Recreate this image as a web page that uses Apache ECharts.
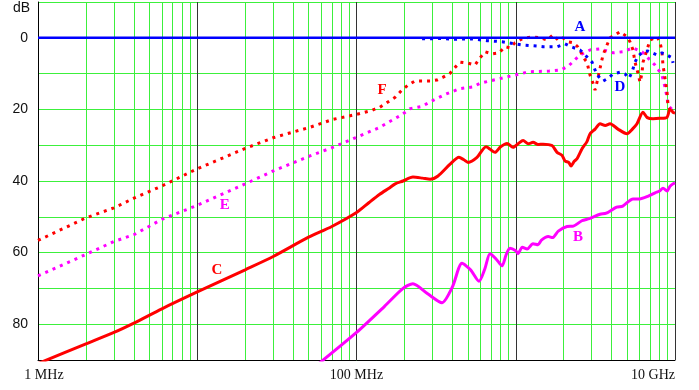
<!DOCTYPE html>
<html>
<head>
<meta charset="utf-8">
<script src="https://cdn.jsdelivr.net/npm/echarts@6/dist/echarts.min.js"></script>
<style>
  html, body { margin: 0; padding: 0; background: #fff; }
  #chart { width: 699px; height: 390px; }
</style>
</head>
<body>
<div id="chart"></div>
<script>
// frequencies in MHz, levels in dB (axis runs downward)
const freqA = [1, 10000]
const valA = [0, 0]

const freqB = [58, 100, 150, 196, 226, 280, 344, 400, 460, 520, 588, 640, 689, 750, 820, 870, 920, 1000, 1033, 1100, 1180, 1283, 1380, 1450, 1600, 1700, 1850, 2100, 2300, 2600, 2900, 3383, 3700, 4300, 4700, 5450, 6000, 6800, 7500, 8000, 8410, 8910, 9300, 9710, 10000]
const valB = [91, 82.3, 75, 70, 68.7, 71.5, 74, 69.6, 63, 64.8, 68, 64.5, 60.3, 61.7, 63.7, 60.6, 58.8, 59.5, 60.3, 58.5, 59, 57.5, 57.8, 56.5, 55.5, 55.8, 54, 52.7, 52.6, 51.1, 50.5, 49.3, 49, 47.3, 47, 45, 45, 44.2, 43.3, 42.8, 42, 42.8, 41.5, 40.8, 40.5]

const freqC = [1, 2, 3, 4, 6, 10, 20, 30, 50, 70, 100, 120, 140, 160, 175, 196, 226, 260, 290, 325, 387, 440, 470, 502, 571, 651, 741, 800, 882, 961, 1040, 1112, 1200, 1285, 1380, 1485, 1690, 1817, 1950, 2040, 2150, 2225, 2330, 2425, 2608, 2800, 2929, 3150, 3383, 3650, 3910, 4385, 4998, 5400, 5773, 6292, 6700, 7277, 8000, 8910, 9310, 9710, 10000]
const valC = [91, 85.5, 82.3, 79.7, 75.7, 71, 64.8, 61.1, 55.7, 52.7, 48.8, 46, 43.7, 42, 40.8, 40, 38.9, 39.2, 39.5, 38.6, 35.3, 33.4, 34, 34.8, 33.4, 30.4, 32, 30.5, 29.5, 30.6, 29.5, 28.7, 29.6, 29.2, 29.8, 29.7, 30.1, 32, 32.8, 34.4, 34.8, 35.8, 34.5, 33.8, 31, 29, 26.8, 25.5, 24, 24.5, 24, 25.5, 26.8, 25.5, 24, 20.8, 22.3, 22.6, 22.5, 22.2, 19.8, 20.8, 21]

const freqD = [258, 330, 420, 531, 660, 820, 894, 1094, 1360, 1483, 1816, 2038, 2225, 2531, 2644, 3013, 3238, 3533, 3797, 4082, 4518, 4853, 5143, 5370, 5609, 5858, 6298, 6764, 7705, 8281, 8913, 9579, 9719]
const valD = [0.3, 0.2, 0.4, 0.3, 0.8, 1.1, 1.4, 2, 2.3, 2.5, 2.5, 1.7, 2.5, 3.4, 4.2, 6.8, 10.4, 12.1, 11.3, 10.1, 9.6, 10.1, 11.3, 9.6, 6.8, 5.1, 3.9, 3.7, 4.8, 4.2, 4.8, 5.6, 7]

const freqE = [1, 2, 3, 4, 6, 10, 20, 30, 51, 71, 100, 140, 192, 217, 257, 290, 360, 446, 541, 597, 759, 1060, 1199, 1620, 1920, 2140, 2531, 2926, 3383, 4082, 4714, 5446, 6205, 6764, 7484, 8281, 8656, 8913, 9043, 9307, 9719]
const valE = [66.5, 60.5, 56.9, 55, 50.7, 46.8, 40.8, 37.2, 33, 30.6, 27.8, 25, 21.5, 19.8, 19.2, 17.9, 15.8, 14.2, 13.7, 12.7, 11.6, 10.1, 9.5, 9.3, 9, 7.9, 4.8, 3.4, 3.1, 4.2, 3.9, 2.8, 3.9, 5.6, 7.6, 10.4, 13.8, 16.6, 18.9, 19.4, 20.3]

const freqF = [1, 2, 3, 4, 6, 10, 20, 30, 51, 71, 100, 124, 140, 175, 193, 211, 232, 290, 320, 350, 387, 417, 448, 502, 555, 597, 641, 709, 785, 856, 920, 989, 1094, 1265, 1420, 1571, 1714, 1842, 1981, 2128, 2300, 2450, 2531, 2644, 2801, 2926, 3057, 3147, 3238, 3383, 3533, 3742, 3908, 4082, 4518, 4998, 5216, 5446, 5609, 5858, 6027, 6205, 6298, 6673, 6966, 7705, 8046, 8281, 8404, 8656, 8913, 9043, 9307, 9719]
const valF = [56.6, 50.3, 47.5, 44.8, 41.4, 36.6, 30.9, 27.9, 25, 22.8, 21.4, 20.3, 19.4, 16.6, 14.6, 13.2, 12.1, 12.1, 11.8, 11, 9.9, 8.2, 6.8, 7.1, 7.6, 5.6, 3.9, 4.5, 4.2, 2.5, 2.8, 1.4, 0.3, -0.3, 0, 0.6, -0.8, 0.6, 0, 1.1, 1.4, 2.5, 3.4, 5.4, 6.8, 10.4, 12.7, 14.6, 12.4, 8.5, 4.8, 2, 0, -0.5, -1.7, -0.3, 1.1, 3.4, 6.8, 9.9, 12.4, 9.9, 6.8, 3.4, 0.6, -0.3, 1.1, 3.9, 7.6, 11.3, 15.2, 18.9, 20.3, 20.5]

// curve letters and where they sit (MHz, dB)
const labelNames = ['A', 'B', 'C', 'D', 'E', 'F']
const labelFreq = [2530, 2460, 13.3, 4515, 14.9, 145]
const labelDb = [-3.1, 55.8, 64.8, 13.8, 46.8, 14.6]

const xLabels = { 0: '1 MHz', 2: '100 MHz', 4: '10 GHz' }
const yLabels = [0, 20, 40, 60, 80]

const GREEN = '#3cf03c'
const RED = '#ff0000'
const MAGENTA = '#ff00ff'
const BLUE = '#0000ff'

// 2..9 lines inside every decade
const minorFreqs = []
for (let d = 0; d < 4; d++) {
  for (let m = 2; m <= 9; m++) minorFreqs.push(m * Math.pow(10, d))
}

const pts = (f, v) => f.map((x, i) => [x, v[i]])

const dotted = { type: [3, 5], width: 3, cap: 'butt' }

const letter = (i, color) => ({
  symbol: 'rect',
  symbolSize: 1,
  silent: true,
  itemStyle: { color: 'rgba(0,0,0,0)' },
  label: {
    show: true,
    position: 'inside',
    formatter: labelNames[i],
    color: color,
    fontFamily: "'Times New Roman', 'Liberation Serif', serif",
    fontWeight: 'bold',
    fontSize: 15,
  },
  data: [{ coord: [labelFreq[i], labelDb[i]] }],
})

const lineSeries = (name, data, color, style, idx, smooth) => ({
  name: name,
  type: 'line',
  data: data,
  showSymbol: false,
  symbol: 'none',
  smooth: smooth || false,
  z: 3,
  lineStyle: Object.assign({ color: color }, style),
  markPoint: letter(idx, color),
  animation: false,
})

const chart = echarts.init(document.getElementById('chart'))

const option = {
  animation: false,
  grid: { left: 38, right: 24, top: 2, bottom: 30, containLabel: false },
  graphic: [
    {
      type: 'text',
      left: 13,
      top: 1,
      style: { text: 'dB', font: "14px Arial, 'Liberation Sans', sans-serif", fill: '#111' },
    },
  ],
  xAxis: {
    type: 'log',
    logBase: 10,
    min: 1,
    max: 10000,
    axisLine: { show: true, onZero: false, lineStyle: { color: '#000', width: 1 } },
    axisTick: { show: false },
    splitLine: { show: true, lineStyle: { color: '#333', width: 1 } },
    axisLabel: {
      show: true,
      margin: 8,
      color: '#111',
      fontSize: 14,
      fontFamily: "'Times New Roman', 'Liberation Serif', serif",
      alignMaxLabel: 'right',
      formatter: (v) => {
        const e = Math.round(Math.log10(v))
        if (e === 0) return '{l|' + xLabels[0] + '}'
        return xLabels[e] || ''
      },
      rich: {
        l: {
          padding: [0, 0, 0, 12],
          fontSize: 14,
          color: '#111',
          fontFamily: "'Times New Roman', 'Liberation Serif', serif",
        },
      },
    },
  },
  yAxis: {
    type: 'value',
    inverse: true,
    min: -10,
    max: 90,
    interval: 10,
    axisLine: { show: true, onZero: false, lineStyle: { color: '#000', width: 1 } },
    axisTick: { show: false },
    splitLine: { show: true, lineStyle: { color: GREEN, width: 1 } },
    axisLabel: {
      margin: 10,
      color: '#111',
      fontSize: 14,
      fontFamily: "Arial, 'Liberation Sans', sans-serif",
      formatter: (v) => (yLabels.indexOf(v) >= 0 ? String(v) : ''),
    },
  },
  series: [
    {
      name: 'grid',
      type: 'line',
      data: [],
      silent: true,
      markLine: {
        silent: true,
        z: 1,
        symbol: ['none', 'none'],
        label: { show: false },
        lineStyle: { color: GREEN, type: 'solid', width: 1 },
        data: minorFreqs.map((f) => ({ xAxis: f })),
        animation: false,
      },
    },
    lineSeries('C', pts(freqC, valC), RED, { width: 3 }, 2, 0.25),
    lineSeries('B', pts(freqB, valB), MAGENTA, { width: 3 }, 1, 0.25),
    lineSeries('E', pts(freqE, valE), MAGENTA, dotted, 4),
    lineSeries('F', pts(freqF, valF), RED, dotted, 5),
    lineSeries('A', pts(freqA, valA), BLUE, { width: 2.5 }, 0),
    lineSeries('D', pts(freqD, valD), BLUE, dotted, 3),
  ],
}

chart.setOption(option)
</script>
</body>
</html>
